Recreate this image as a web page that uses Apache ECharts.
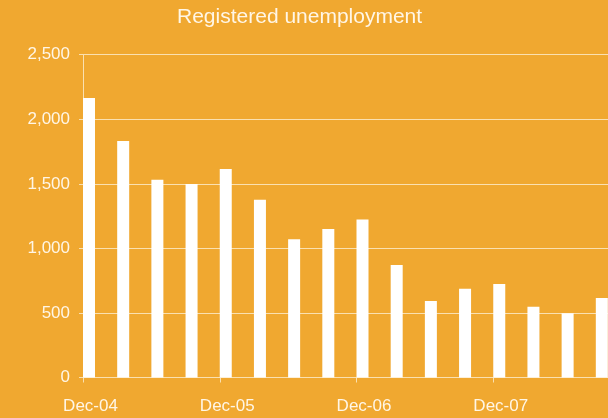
<!DOCTYPE html>
<html>
<head>
<meta charset="utf-8">
<script src="https://cdn.jsdelivr.net/npm/echarts@6/dist/echarts.min.js"></script>
<style>
html,body{margin:0;padding:0;background:#F0A830;}
#c{width:608px;height:418px;}
</style>
</head>
<body>
<div id="c"></div>
<script>
const categories = ['Dec-04','Mar-05','Jun-05','Sep-05','Dec-05','Mar-06','Jun-06','Sep-06','Dec-06','Mar-07','Jun-07','Sep-07','Dec-07','Mar-08','Jun-08','Sep-08',''];
const unemployment = [2165,1831,1531,1498,1614,1376,1071,1151,1223,872,593,688,725,547,498,616,'-'];
const yTicks = [0,500,1000,1500,2000,2500];

const txt = '#FFF6E6';
const grid = '#FAE0B0';
const chart = echarts.init(document.getElementById('c'), null, {renderer:'canvas'});
chart.setOption({
  backgroundColor:'#F0A830',
  animation:false,
  title:{text:'Registered unemployment', left:172, top:2,
    textStyle:{color:txt, fontSize:21, fontWeight:'normal', fontFamily:'Liberation Sans'}},
  grid:{left:83, top:54.7, height:322.8, width:547, containLabel:false, outerBoundsMode:'none'},
  xAxis:{type:'category', data:categories, boundaryGap:false,
    axisLine:{lineStyle:{color:grid, width:1}},
    axisTick:{show:true, interval:3, length:5, lineStyle:{color:grid}},
    axisLabel:{interval:3, color:txt, fontSize:17, fontFamily:'Liberation Sans', margin:20, padding:[0,0,0,15]},
    splitLine:{show:false}},
  yAxis:{type:'value', min:yTicks[0], max:yTicks[yTicks.length-1], interval:500,
    axisLine:{show:true, lineStyle:{color:grid, width:1}},
    axisTick:{show:true, length:4, lineStyle:{color:grid}},
    axisLabel:{color:txt, fontSize:17, fontFamily:'Liberation Sans', margin:13,
      formatter:v=>v.toLocaleString('en-US')},
    splitLine:{show:true, lineStyle:{color:grid, width:1}}},
  series:[
    {type:'bar', data:categories.map(()=>'-'), barWidth:12, barGap:'0%', silent:true},
    {type:'bar', data:unemployment, barWidth:12, barGap:'0%', itemStyle:{color:'#FFFFFF'}}
  ]
});
</script>
</body>
</html>
